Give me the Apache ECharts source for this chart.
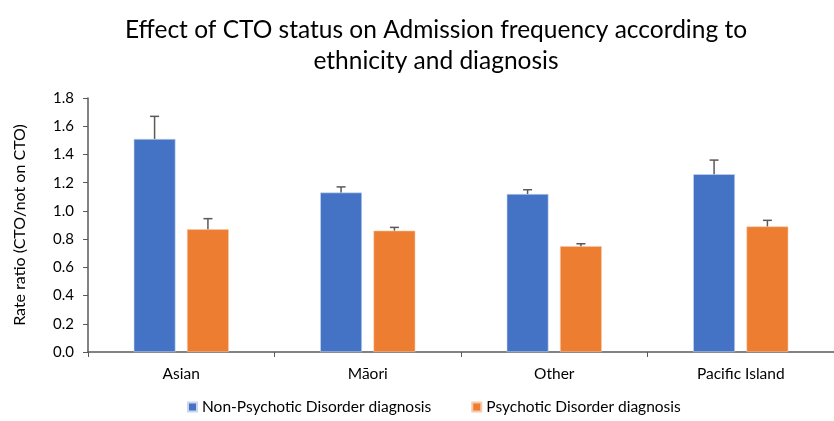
<!DOCTYPE html>
<html>
<head>
<meta charset="utf-8">
<script src="https://cdn.jsdelivr.net/npm/echarts@6/dist/echarts.min.js"></script>
<style>
  html, body { margin: 0; padding: 0; background: #fff; }
  #chart { width: 834px; height: 421px; }
</style>
</head>
<body>
<div id="chart"></div>
<script>
// data
var categories = ['Asian', 'Māori', 'Other', 'Pacific Island']
var nonPsychotic = [1.51, 1.13, 1.12, 1.26]
var nonPsychoticUpper = [1.67, 1.17, 1.15, 1.36]
var psychotic = [0.87, 0.86, 0.75, 0.89]
var psychoticUpper = [0.945, 0.883, 0.767, 0.933]
var yTicks = [0, 0.2, 0.4, 0.6, 0.8, 1.0, 1.2, 1.4, 1.6, 1.8]

var font = 'Lato, "Open Sans", sans-serif'
var blue = '#4472C4'
var orange = '#ED7D31'
var axisColor = '#595959'

// upper-only error bar with cap, shifted to sit over its bar
function errorBar(values, uppers, shift) {
  return {
    type: 'custom',
    silent: true,
    z: 5,
    data: categories.map(function (c, i) { return [i, values[i], uppers[i]] }),
    renderItem: function (params, api) {
      var band = api.size([1, 0])[0]
      var bottom = api.coord([api.value(0), api.value(1)])
      var top = api.coord([api.value(0), api.value(2)])
      var x = bottom[0] + band * shift
      var style = { stroke: '#595959', lineWidth: 1.5 }
      return {
        type: 'group',
        children: [
          { type: 'line', shape: { x1: x, y1: bottom[1], x2: x, y2: top[1] }, style: style },
          { type: 'line', shape: { x1: x - 4.5, y1: top[1], x2: x + 4.5, y2: top[1] }, style: style }
        ]
      }
    }
  }
}

var chart = echarts.init(document.getElementById('chart'))
chart.setOption({
  animation: false,
  backgroundColor: '#fff',
  title: {
    text: 'Effect of CTO status on Admission frequency according to\nethnicity and diagnosis',
    left: 431,
    top: 10,
    textAlign: 'center',
    textStyle: { fontFamily: font, fontSize: 24.5, fontWeight: 'normal', color: '#000', lineHeight: 31 }
  },
  legend: {
    bottom: 1,
    left: 182,
    itemWidth: 9,
    itemHeight: 9,
    itemGap: 40,
    icon: 'rect',
    textStyle: { fontFamily: font, fontSize: 15.5, color: '#000' },
    data: ['Non-Psychotic Disorder diagnosis', 'Psychotic Disorder diagnosis']
  },
  grid: { left: 88, right: -8, top: 98, bottom: 69 },
  xAxis: {
    type: 'category',
    data: categories,
    axisLine: { lineStyle: { color: axisColor, width: 1.5 } },
    axisTick: { show: true, length: 5, lineStyle: { color: axisColor } },
    axisLabel: { fontFamily: font, fontSize: 15.5, color: '#000', margin: 14 }
  },
  yAxis: {
    type: 'value',
    min: 0,
    max: yTicks[yTicks.length - 1],
    interval: 0.2,
    name: 'Rate ratio (CTO/not on CTO)',
    nameLocation: 'middle',
    nameGap: 60,
    nameTextStyle: { fontFamily: font, fontSize: 16, color: '#000' },
    axisLine: { show: true, lineStyle: { color: axisColor, width: 1.5 } },
    axisTick: { show: true, length: 5, lineStyle: { color: axisColor } },
    splitLine: { show: false },
    axisLabel: {
      fontFamily: font, fontSize: 15, color: '#000', margin: 14,
      formatter: function (v) { return v.toFixed(1) }
    }
  },
  series: [
    {
      name: 'Non-Psychotic Disorder diagnosis',
      type: 'bar',
      data: nonPsychotic,
      barWidth: '22.4%',
      barGap: '27.6%',
      itemStyle: { color: blue, borderColor: '#c9d6ee', borderWidth: 0.6 }
    },
    {
      name: 'Psychotic Disorder diagnosis',
      type: 'bar',
      data: psychotic,
      barWidth: '22.4%',
      barGap: '27.6%',
      itemStyle: { color: orange, borderColor: '#f7c9a8', borderWidth: 0.6 }
    },
    errorBar(nonPsychotic, nonPsychoticUpper, -0.143),
    errorBar(psychotic, psychoticUpper, 0.143)
  ]
})
</script>
</body>
</html>
